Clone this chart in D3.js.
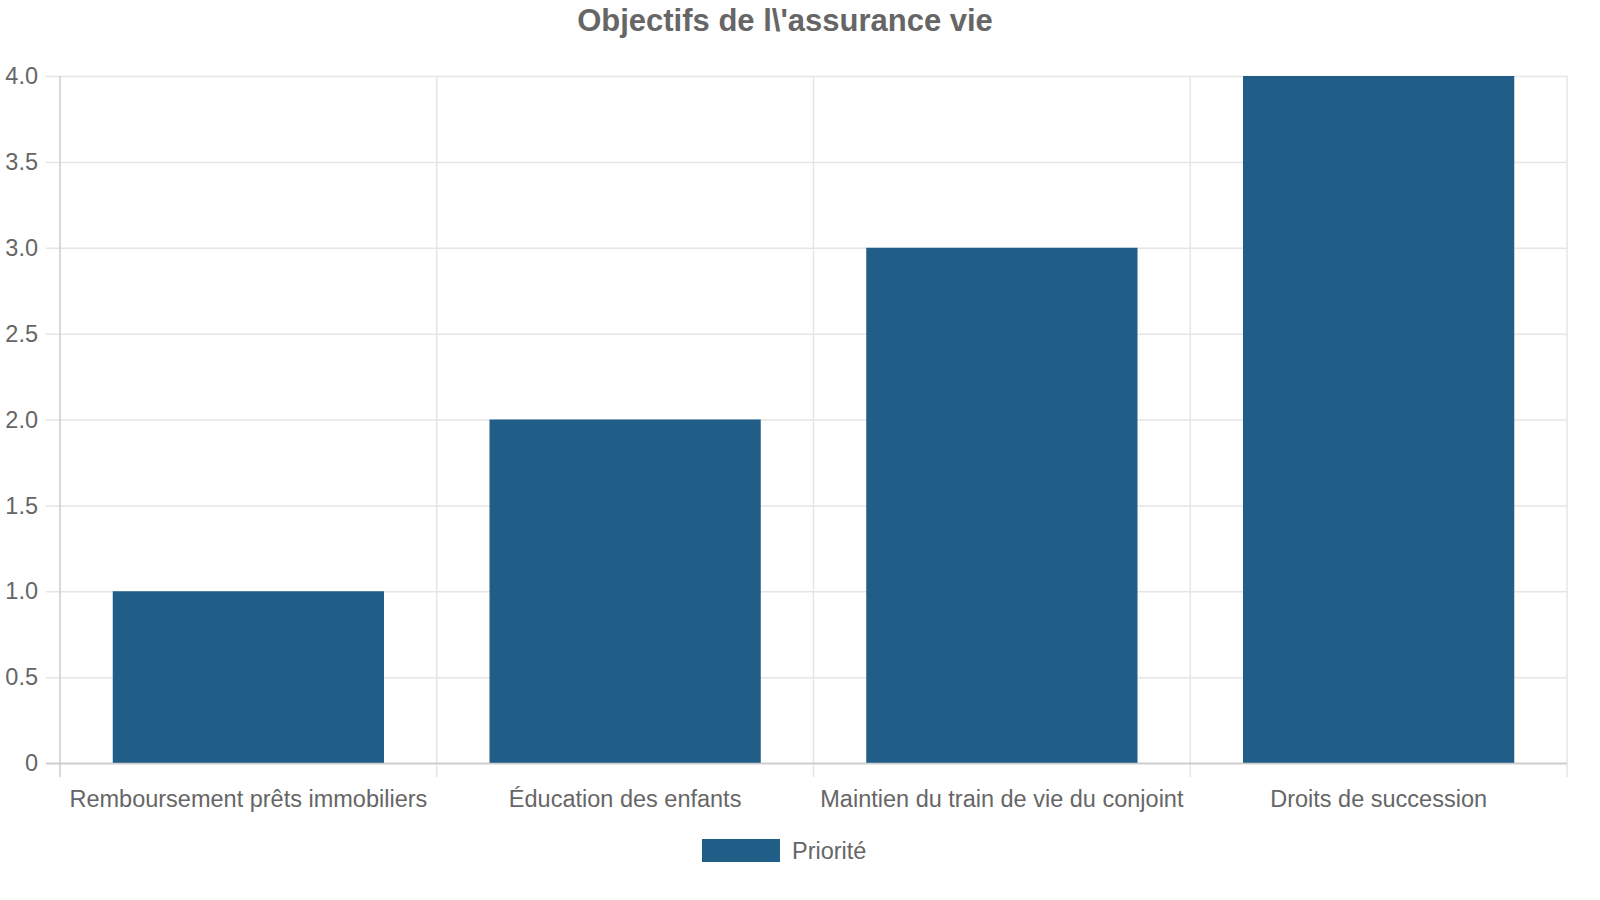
<!DOCTYPE html>
<html><head><meta charset="utf-8">
<script src="https://cdn.jsdelivr.net/npm/d3@7"></script>
<style>
html,body{margin:0;padding:0;background:#fff;}
svg{display:block;font-family:"Liberation Sans",Arial,sans-serif;}
</style></head>
<body>
<svg id="chart" width="1600" height="900"></svg>
<script>
const title = "Objectifs de l\\'assurance vie";
const categories = ["Remboursement prêts immobiliers","Éducation des enfants","Maintien du train de vie du conjoint","Droits de succession"];
const seriesName = "Priorité";
const values = [1, 2, 3, 4];
const yTicks = [0, 0.5, 1, 1.5, 2, 2.5, 3, 3.5, 4];

const svg = d3.select("#chart");
const M = {left: 60, right: 1567, top: 76, bottom: 763};
const barColor = "#205d87";
const textColor = "#666666";

const x = d3.scaleBand().domain(categories).range([M.left, M.right]).paddingInner(0).paddingOuter(0);
const y = d3.scaleLinear().domain([0, 4]).range([M.bottom, M.top]);

// horizontal grid
svg.append("g").selectAll("line").data(yTicks).join("line")
  .attr("x1", M.left - 14).attr("x2", M.right)
  .attr("y1", d => y(d) + 0.5).attr("y2", d => y(d) + 0.5)
  .attr("stroke", d => d === 0 ? "#cccccc" : "#e5e5e5").attr("stroke-width", 1.5);

// vertical grid at category boundaries
const bounds = categories.map(c => x(c)).concat([x.range()[1]]);
svg.append("g").selectAll("line").data(bounds).join("line")
  .attr("x1", d => d).attr("x2", d => d)
  .attr("y1", M.top).attr("y2", M.bottom + 14)
  .attr("stroke", (d, i) => i === 0 ? "#cccccc" : "#e5e5e5").attr("stroke-width", 1.5);

// bars
const bw = x.bandwidth() * 0.72;
svg.append("g").selectAll("rect").data(values).join("rect")
  .attr("x", (d, i) => x(categories[i]) + (x.bandwidth() - bw) / 2)
  .attr("width", bw)
  .attr("y", d => y(d))
  .attr("height", d => y(0) - y(d))
  .attr("fill", barColor);

// bottom axis line
svg.append("line").attr("x1", M.left - 14).attr("x2", M.right)
  .attr("y1", M.bottom + 0.5).attr("y2", M.bottom + 0.5)
  .attr("stroke", "#cccccc").attr("stroke-width", 1.5);

// y tick labels
svg.append("g").selectAll("text").data(yTicks).join("text")
  .attr("x", 38).attr("y", d => y(d))
  .attr("dy", "0.35em").attr("text-anchor", "end")
  .attr("font-size", 23.5).attr("fill", textColor)
  .text(d => d === 0 ? "0" : d3.format(".1f")(d));

// x labels
svg.append("g").selectAll("text").data(categories).join("text")
  .attr("x", d => x(d) + x.bandwidth() / 2).attr("y", 799)
  .attr("dy", "0.35em").attr("text-anchor", "middle")
  .attr("font-size", 23.5).attr("fill", textColor)
  .text(d => d);

// title
svg.append("text").attr("x", 785).attr("y", 20).attr("dy", "0.35em")
  .attr("text-anchor", "middle").attr("font-size", 31).attr("font-weight", "bold")
  .attr("fill", textColor).text(title);

// legend
const lg = svg.append("g");
lg.append("rect").attr("x", 702).attr("y", 839).attr("width", 78).attr("height", 23).attr("fill", barColor);
lg.append("text").attr("x", 792).attr("y", 851).attr("dy", "0.35em")
  .attr("font-size", 23.5).attr("fill", textColor).text(seriesName);
</script>
</body></html>
